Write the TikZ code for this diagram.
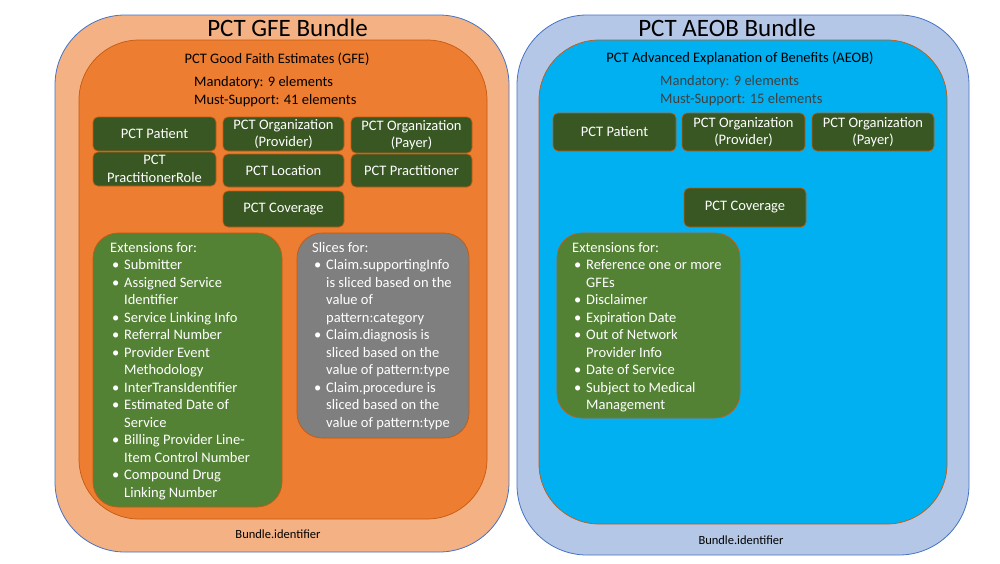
\documentclass[tikz,border=0pt]{standalone}
\usepackage{fontspec}
\setmainfont{Carlito}
\usepackage{array}

\definecolor{gfeouter}{HTML}{F4B183}
\definecolor{gfeinner}{HTML}{ED7D31}
\definecolor{aeobouter}{HTML}{B4C7E7}
\definecolor{aeobinner}{HTML}{00B0F0}
\definecolor{bundleline}{HTML}{4472C4}
\definecolor{rustline}{HTML}{C55A11}
\definecolor{profilegreen}{HTML}{385723}
\definecolor{extgreen}{HTML}{548235}
\definecolor{slicegray}{HTML}{7F7F7F}
\definecolor{softblack}{HTML}{404040}

\tikzset{
  bundlebox/.style={draw=bundleline, line width=0.8pt, rounded corners=70pt,
    inner sep=0pt, outer sep=0pt},
  resourcebox/.style={draw=rustline, line width=0.7pt, rounded corners=60pt,
    inner sep=0pt, outer sep=0pt},
  profilebox/.style={draw=rustline, line width=0.7pt, fill=profilegreen,
    rounded corners=5pt, inner sep=0pt, outer sep=0pt, text=white,
    align=center, font=\fontsize{14.5}{17.5}\selectfont},
  listbox/.style={draw=rustline, line width=0.7pt, rounded corners=25pt,
    inner sep=0pt, outer sep=0pt},
  listtext/.style={anchor=north west, inner sep=0pt, text=white,
    font=\fontsize{14.5}{17.5}\selectfont},
  titletext/.style={anchor=base, inner sep=0pt, font=\fontsize{25}{30}\selectfont},
  captiontext/.style={anchor=base, inner sep=0pt, font=\fontsize{14.5}{17.5}\selectfont},
  counttext/.style={anchor=north west, inner sep=0pt, font=\fontsize{14.5}{17.5}\selectfont},
  idtext/.style={anchor=base, inner sep=0pt, font=\fontsize{12.5}{15}\selectfont},
}

\newcolumntype{B}{@{\hspace{2pt}}p{12pt}@{}l@{}}

\begin{document}
\begin{tikzpicture}[x=1pt,y=-1pt]
\useasboundingbox (0,0) rectangle (1000,563);

% ---------------- GFE bundle ----------------
\node[bundlebox, fill=gfeouter, minimum width=454pt, minimum height=537pt]
  (gfebundle) at (282,283.5) {};
\node[resourcebox, fill=gfeinner, minimum width=408pt, minimum height=479pt]
  (gfe) at (283,279.5) {};
\node[titletext] (gfetitle) at (287.5,36.5) {PCT GFE Bundle};
\node[captiontext] (gfename) at (277,63) {PCT Good Faith Estimates (GFE)};
\node[counttext] (gfecount) at (194,74.5)
  {\begin{tabular}{@{}l@{}}Mandatory: 9 elements\\ Must-Support: 41 elements\end{tabular}};

\node[profilebox, minimum width=123pt, minimum height=34pt] (gpatient) at (154.5,134) {PCT Patient};
\node[profilebox, minimum width=123pt, minimum height=34pt] (grole) at (154.5,169) {PCT\\PractitionerRole};
\node[profilebox, minimum width=121pt, minimum height=34pt] (gprovider) at (283.5,134) {PCT Organization\\(Provider)};
\node[profilebox, minimum width=121pt, minimum height=33pt] (glocation) at (283.5,170.5) {PCT Location};
\node[profilebox, minimum width=121pt, minimum height=36pt] (gcoverage) at (283.5,209) {PCT Coverage};
\node[profilebox, minimum width=121pt, minimum height=36pt] (gpayer) at (411.5,135) {PCT Organization\\(Payer)};
\node[profilebox, minimum width=121pt, minimum height=33pt] (gpractitioner) at (411.5,170.5) {PCT Practitioner};

\node[listbox, fill=extgreen, minimum width=189pt, minimum height=274pt] (gext) at (187.5,370) {};
\node[listtext] (gexttext) at (110,240) {%
\begin{tabular}{B}
\multicolumn{2}{@{}l@{}}{Extensions for:}\\
\textbullet & Submitter\\
\textbullet & Assigned Service\\
 & Identifier\\
\textbullet & Service Linking Info\\
\textbullet & Referral Number\\
\textbullet & Provider Event\\
 & Methodology\\
\textbullet & InterTransIdentifier\\
\textbullet & Estimated Date of\\
 & Service\\
\textbullet & Billing Provider Line-\\
 & Item Control Number\\
\textbullet & Compound Drug\\
 & Linking Number
\end{tabular}};

\node[listbox, fill=slicegray, minimum width=172pt, minimum height=205pt] (gslice) at (383,335.5) {};
\node[listtext] (gslicetext) at (312,240) {%
\begin{tabular}{B}
\multicolumn{2}{@{}l@{}}{Slices for:}\\
\textbullet & Claim.supportingInfo\\
 & is sliced based on the\\
 & value of\\
 & pattern:category\\
\textbullet & Claim.diagnosis is\\
 & sliced based on the\\
 & value of pattern:type\\
\textbullet & Claim.procedure is\\
 & sliced based on the\\
 & value of pattern:type
\end{tabular}};

\node[idtext] (gfeid) at (278,538) {Bundle.identifier};

% ---------------- AEOB bundle ----------------
\node[bundlebox, fill=aeobouter, minimum width=452pt, minimum height=540pt]
  (aeobbundle) at (743,285) {};
\node[resourcebox, fill=aeobinner, minimum width=408pt, minimum height=484pt]
  (aeob) at (743,282) {};
\node[titletext] (aeobtitle) at (727,36.5) {PCT AEOB Bundle};
\node[captiontext] (aeobname) at (740,62) {PCT Advanced Explanation of Benefits (AEOB)};
\node[counttext, text=softblack] (aeobcount) at (660,73.5)
  {\begin{tabular}{@{}l@{}}Mandatory: 9 elements\\ Must-Support: 15 elements\end{tabular}};

\node[profilebox, minimum width=123pt, minimum height=38pt] (apatient) at (614.5,132) {PCT Patient};
\node[profilebox, minimum width=123pt, minimum height=38pt] (aprovider) at (743.5,132) {PCT Organization\\(Provider)};
\node[profilebox, minimum width=122pt, minimum height=38pt] (apayer) at (873,132) {PCT Organization\\(Payer)};
\node[profilebox, minimum width=122pt, minimum height=39pt] (acoverage) at (745,207.5) {PCT Coverage};

\node[listbox, fill=extgreen, minimum width=183pt, minimum height=185pt] (aext) at (648.5,325.5) {};
\node[listtext] (aexttext) at (572,240) {%
\begin{tabular}{B}
\multicolumn{2}{@{}l@{}}{Extensions for:}\\
\textbullet & Reference one or more\\
 & GFEs\\
\textbullet & Disclaimer\\
\textbullet & Expiration Date\\
\textbullet & Out of Network\\
 & Provider Info\\
\textbullet & Date of Service\\
\textbullet & Subject to Medical\\
 & Management
\end{tabular}};

\node[idtext] (aeobid) at (741,544) {Bundle.identifier};
\end{tikzpicture}
\end{document}
